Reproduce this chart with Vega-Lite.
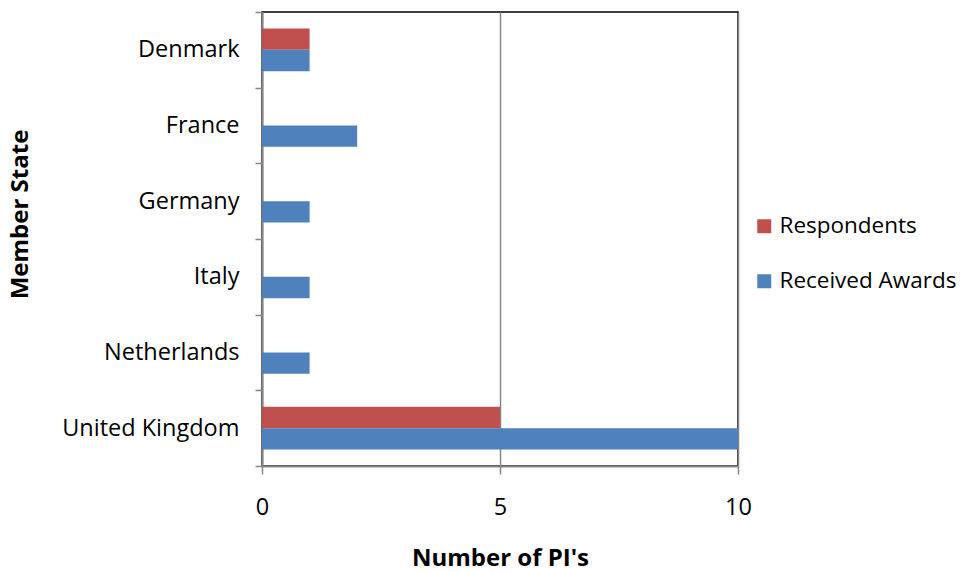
{
  "$schema": "https://vega.github.io/schema/vega-lite/v6.json",
  "autosize": "none",
  "padding": {"left": 262, "top": 12, "right": 228, "bottom": 106},
  "width": 476,
  "height": 454,
  "background": "white",
  "config": {
    "view": {"stroke": "black", "strokeWidth": 1.5},
    "font": "Open Sans"
  },
  "data": {
    "values": [
      {"state": "Denmark", "series": "Respondents", "count": 1},
      {"state": "Denmark", "series": "Received Awards", "count": 1},
      {"state": "France", "series": "Respondents", "count": 0},
      {"state": "France", "series": "Received Awards", "count": 2},
      {"state": "Germany", "series": "Respondents", "count": 0},
      {"state": "Germany", "series": "Received Awards", "count": 1},
      {"state": "Italy", "series": "Respondents", "count": 0},
      {"state": "Italy", "series": "Received Awards", "count": 1},
      {"state": "Netherlands", "series": "Respondents", "count": 0},
      {"state": "Netherlands", "series": "Received Awards", "count": 1},
      {"state": "United Kingdom", "series": "Respondents", "count": 5},
      {"state": "United Kingdom", "series": "Received Awards", "count": 10}
    ]
  },
  "mark": {"type": "bar"},
  "encoding": {
    "y": {
      "field": "state",
      "type": "nominal",
      "sort": ["Denmark", "France", "Germany", "Italy", "Netherlands", "United Kingdom"],
      "scale": {"paddingInner": 0, "paddingOuter": 0},
      "axis": {
        "title": "Member State",
        "titleFont": "Open Sans",
        "titleFontSize": 24,
        "titleFontWeight": "bold",
        "titleColor": "black",
        "titlePadding": 30,
        "titleY": 202,
        "labelFont": "Open Sans",
        "labelFontSize": 23.5,
        "labelColor": "black",
        "labelPadding": 16,
        "tickBand": "extent",
        "tickSize": 7,
        "tickColor": "#868686",
        "tickWidth": 1.5,
        "domainColor": "#868686",
        "domainWidth": 2,
        "grid": false
      }
    },
    "yOffset": {
      "field": "series",
      "type": "nominal",
      "sort": ["Respondents", "Received Awards"],
      "scale": {"paddingInner": 0, "paddingOuter": 0.77}
    },
    "x": {
      "field": "count",
      "type": "quantitative",
      "scale": {"domain": [0, 10]},
      "axis": {
        "title": "Number of PI's",
        "titleFont": "Open Sans",
        "titleFontSize": 24,
        "titleFontWeight": "bold",
        "titleColor": "black",
        "titlePadding": 28,
        "values": [0, 5, 10],
        "labelFont": "Open Sans",
        "labelFontSize": 23.5,
        "labelColor": "black",
        "labelPadding": 21,
        "labelFlush": false,
        "tickSize": 8,
        "tickColor": "#868686",
        "tickWidth": 1.5,
        "domainColor": "#868686",
        "domainWidth": 2,
        "grid": true,
        "gridColor": "#868686",
        "gridWidth": 1.5
      }
    },
    "color": {
      "field": "series",
      "type": "nominal",
      "sort": ["Respondents", "Received Awards"],
      "scale": {"domain": ["Respondents", "Received Awards"], "range": ["#C0504D", "#4F81BD"]},
      "legend": {
        "title": null,
        "orient": "none",
        "legendX": 491,
        "legendY": 203,
        "padding": 0,
        "symbolType": "square",
        "symbolSize": 196,
        "symbolStrokeWidth": 0,
        "labelFont": "Open Sans",
        "labelFontSize": 22.5,
        "labelColor": "black",
        "labelOffset": 4,
        "labelLimit": 400,
        "rowPadding": 32
      }
    }
  }
}
